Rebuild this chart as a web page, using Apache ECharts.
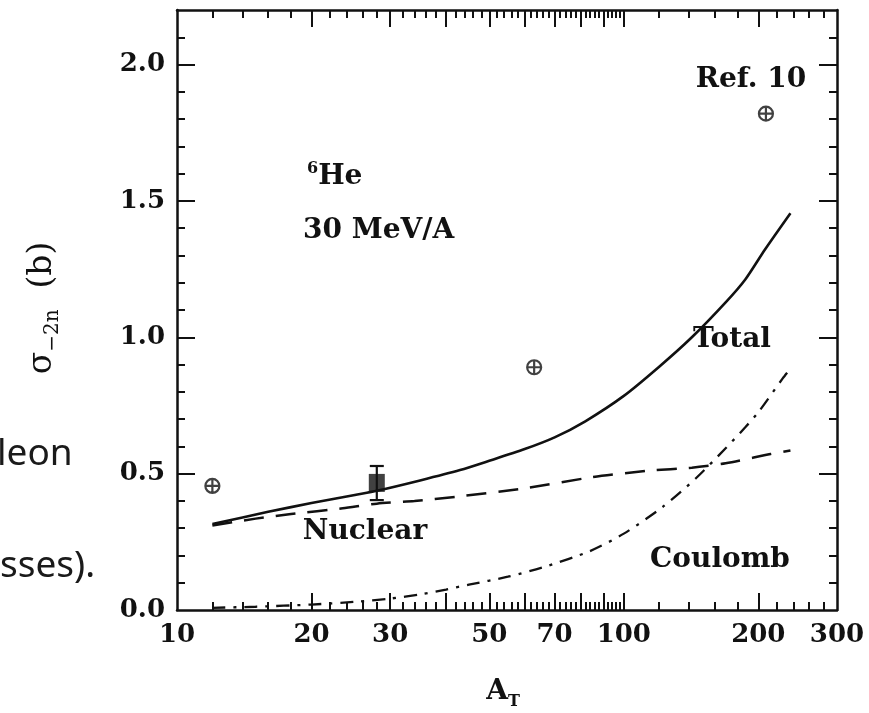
<!DOCTYPE html>
<html>
<head>
<meta charset="utf-8">
<script src="https://cdn.jsdelivr.net/npm/echarts@6/dist/echarts.min.js"></script>
<style>
html,body{margin:0;padding:0;background:#fff;}
#chart{width:869px;height:713px;}
</style>
</head>
<body>
<div id="chart"></div>
<script>
// ---- data ----
const totalA = [12, 16, 20, 25, 28, 35, 43, 50, 60, 70, 82, 100, 120, 142, 169, 187, 207, 236];
const totalS = [0.315, 0.36, 0.392, 0.422, 0.437, 0.475, 0.513, 0.547, 0.59, 0.633, 0.692, 0.785, 0.892, 1.0, 1.128, 1.212, 1.322, 1.455];

const nuclearA = [12, 15, 18, 23.5, 28, 34, 42, 60, 85, 114, 142, 169, 213, 236];
const nuclearS = [0.31, 0.335, 0.352, 0.373, 0.39, 0.40, 0.415, 0.446, 0.487, 0.511, 0.522, 0.538, 0.572, 0.585];

const coulombA = [12, 15, 20, 25, 30, 35, 40, 45, 55, 67, 84, 100, 122, 145, 169, 187, 200, 227, 232];
const coulombS = [0.008, 0.012, 0.02, 0.03, 0.042, 0.057, 0.075, 0.093, 0.122, 0.16, 0.216, 0.28, 0.377, 0.483, 0.593, 0.67, 0.725, 0.85, 0.87];

const refA = [12, 63, 208];
const refS = [0.455, 0.89, 1.82];

const thisA = [28];
const thisS = [0.466];
const thisLow = [0.403];
const thisHigh = [0.528];

const xLabels = [10, 20, 30, 50, 70, 100, 200, 300];
const xMajorTicks = [20, 30, 40, 50, 60, 70, 80, 90, 100, 200];
const xMinorTicks = [12, 14, 16, 18, 22, 24, 26, 28, 32, 34, 36, 38, 42, 44, 46, 48,
  52, 54, 56, 58, 62, 64, 66, 68, 72, 74, 76, 78, 82, 84, 86, 88, 92, 94, 96, 98,
  120, 140, 160, 180, 220, 240, 260, 280];
const yLabels = [0, 0.5, 1.0, 1.5, 2.0];
const yMajorTicks = [0.5, 1.0, 1.5, 2.0];
const yMinorTicks = [0.1, 0.2, 0.3, 0.4, 0.6, 0.7, 0.8, 0.9, 1.1, 1.2, 1.3, 1.4, 1.6, 1.7, 1.8, 1.9, 2.1];

const X_MIN = 10, X_MAX = 300, Y_MIN = 0, Y_MAX = 2.2;

// ---- helpers ----
const zip = (a, b) => a.map((v, i) => [v, b[i]]);
const lg = v => Math.log10(v);
const FONT = '"DejaVu Serif", serif';
const INK = '#111';
const gridBox = {left: 177, top: 10, width: 660, height: 600, containLabel: false, outerBoundsMode: 'none'};

function helperX(gridIndex, position, ticks, len, withLine, withLabels) {
  return {
    gridIndex, type: 'value', position, min: lg(X_MIN), max: lg(X_MAX),
    axisLine: {show: withLine, onZero: false, lineStyle: {color: INK, width: 2.5}},
    axisTick: {show: true, inside: true, length: len, customValues: ticks.map(lg), lineStyle: {color: INK, width: 2}},
    axisLabel: withLabels ? {
      show: true, customValues: xLabels.map(lg), margin: 12,
      formatter: v => String(Math.round(Math.pow(10, v))),
      color: INK, fontFamily: FONT, fontSize: 26, fontWeight: 'bold'
    } : {show: false},
    splitLine: {show: false}, minorTick: {show: false}
  };
}
function helperY(gridIndex, position, ticks, len, withLine, withLabels) {
  return {
    gridIndex, type: 'value', position, min: Y_MIN, max: Y_MAX,
    axisLine: {show: withLine, onZero: false, lineStyle: {color: INK, width: 2.5}},
    axisTick: {show: true, inside: true, length: len, customValues: ticks, lineStyle: {color: INK, width: 2}},
    axisLabel: withLabels ? {
      show: true, customValues: yLabels, margin: 12,
      formatter: v => Number(v).toFixed(1),
      color: INK, fontFamily: FONT, fontSize: 26, fontWeight: 'bold'
    } : {show: false},
    splitLine: {show: false}, minorTick: {show: false}
  };
}

const crossPath = 'path://M10,0A10,10,0,1,1,-10,0A10,10,0,1,1,10,0ZM-10,0L10,0M0,-10L0,10';

const chart = echarts.init(document.getElementById('chart'), null, {renderer: 'canvas'});
const option = {
  animation: false,
  backgroundColor: '#fff',
  grid: [
    Object.assign({}, gridBox),
    Object.assign({}, gridBox),
    Object.assign({}, gridBox)
  ],
  xAxis: [
    {gridIndex: 0, type: 'log', logBase: 10, min: X_MIN, max: X_MAX, show: false},
    helperX(1, 'bottom', xMajorTicks, 17, true, true),
    helperX(1, 'top', xMajorTicks, 17, true, false),
    helperX(2, 'bottom', xMinorTicks, 8, false, false),
    helperX(2, 'top', xMinorTicks, 8, false, false)
  ],
  yAxis: [
    {gridIndex: 0, type: 'value', min: Y_MIN, max: Y_MAX, show: false},
    helperY(1, 'left', yMajorTicks, 18, true, true),
    helperY(1, 'right', yMajorTicks, 18, true, false),
    helperY(2, 'left', yMinorTicks, 8, false, false),
    helperY(2, 'right', yMinorTicks, 8, false, false)
  ],
  series: [
    {
      name: 'Total', type: 'line', xAxisIndex: 0, yAxisIndex: 0,
      data: zip(totalA, totalS), showSymbol: false, smooth: 0.25,
      lineStyle: {color: INK, width: 2.6, type: 'solid'}
    },
    {
      name: 'Nuclear', type: 'line', xAxisIndex: 0, yAxisIndex: 0,
      data: zip(nuclearA, nuclearS), showSymbol: false, smooth: 0.25,
      lineStyle: {color: INK, width: 2.5, type: [20, 12]}
    },
    {
      name: 'Coulomb', type: 'line', xAxisIndex: 0, yAxisIndex: 0,
      data: zip(coulombA, coulombS), showSymbol: false, smooth: 0.25,
      lineStyle: {color: INK, width: 2.3, type: [13, 8, 3, 8]}
    },
    {
      name: 'Ref. 10', type: 'scatter', xAxisIndex: 0, yAxisIndex: 0,
      data: zip(refA, refS), symbol: crossPath, symbolSize: 14, symbolKeepAspect: true,
      itemStyle: {color: '#fff', borderColor: INK, borderWidth: 2.2}
    },
    {
      name: 'error', type: 'custom', xAxisIndex: 0, yAxisIndex: 0,
      data: thisA.map((a, i) => [a, thisLow[i], thisHigh[i]]),
      renderItem: function (params, api) {
        const lo = api.coord([api.value(0), api.value(1)]);
        const hi = api.coord([api.value(0), api.value(2)]);
        const w = 7;
        const st = {stroke: INK, lineWidth: 2.2};
        return {
          type: 'group',
          children: [
            {type: 'line', shape: {x1: lo[0], y1: lo[1], x2: hi[0], y2: hi[1]}, style: st},
            {type: 'line', shape: {x1: lo[0] - w, y1: lo[1], x2: lo[0] + w, y2: lo[1]}, style: st},
            {type: 'line', shape: {x1: hi[0] - w, y1: hi[1], x2: hi[0] + w, y2: hi[1]}, style: st}
          ]
        };
      }
    },
    {
      name: 'This work', type: 'scatter', xAxisIndex: 0, yAxisIndex: 0,
      data: zip(thisA, thisS), symbol: 'rect', symbolSize: [16, 18],
      itemStyle: {color: INK}
    }
  ],
  graphic: [
    // annotations
    {type: 'text', style: {x: 751, y: 80, text: 'Ref. 10', align: 'center', verticalAlign: 'middle', font: 'bold 28px ' + FONT, fill: INK}},
    {type: 'text', style: {x: 307, y: 176, text: '{sup|6}{m|He}', align: 'left', verticalAlign: 'middle',
      rich: {sup: {fontSize: 16, fontWeight: 'bold', fontFamily: FONT, fill: INK, verticalAlign: 'top', lineHeight: 30},
             m: {fontSize: 28, fontWeight: 'bold', fontFamily: FONT, fill: INK, lineHeight: 30, verticalAlign: 'bottom'}}}},
    {type: 'text', style: {x: 303, y: 231, text: '30 MeV/A', align: 'left', verticalAlign: 'middle', font: 'bold 28px ' + FONT, fill: INK}},
    {type: 'text', style: {x: 732, y: 340, text: 'Total', align: 'center', verticalAlign: 'middle', font: 'bold 28px ' + FONT, fill: INK}},
    {type: 'text', style: {x: 365, y: 532, text: 'Nuclear', align: 'center', verticalAlign: 'middle', font: 'bold 28px ' + FONT, fill: INK}},
    {type: 'text', style: {x: 720, y: 560, text: 'Coulomb', align: 'center', verticalAlign: 'middle', font: 'bold 28px ' + FONT, fill: INK}},
    // axis titles
    {type: 'text', x: 503, y: 692, style: {text: '{m|A}{s|T}', align: 'center', verticalAlign: 'middle',
      rich: {m: {fontSize: 28, fontWeight: 'bold', fontFamily: FONT, fill: INK, lineHeight: 36, verticalAlign: 'middle'},
             s: {fontSize: 16, fontWeight: 'bold', fontFamily: FONT, fill: INK, lineHeight: 36, verticalAlign: 'bottom'}}}},
    {type: 'text', x: 42, y: 308, rotation: Math.PI / 2, style: {text: '{m|σ}{s|−2n}{m|  (b)}', align: 'center', verticalAlign: 'middle',
      rich: {m: {fontSize: 33, fontFamily: FONT, fill: INK, lineHeight: 42, verticalAlign: 'middle'},
             s: {fontSize: 20, fontFamily: FONT, fill: INK, lineHeight: 42, verticalAlign: 'bottom'}}}},
    // fragments of surrounding slide text
    {type: 'text', style: {x: -3, y: 436, text: 'leon', align: 'left', verticalAlign: 'alphabetic', font: '37px "Noto Sans", sans-serif', fill: '#1a1a1a'}},
    {type: 'text', style: {x: 0, y: 548, text: 'sses).', align: 'left', verticalAlign: 'alphabetic', font: '37px "Noto Sans", sans-serif', fill: '#1a1a1a'}}
  ]
};
chart.setOption(option);
</script>
</body>
</html>
